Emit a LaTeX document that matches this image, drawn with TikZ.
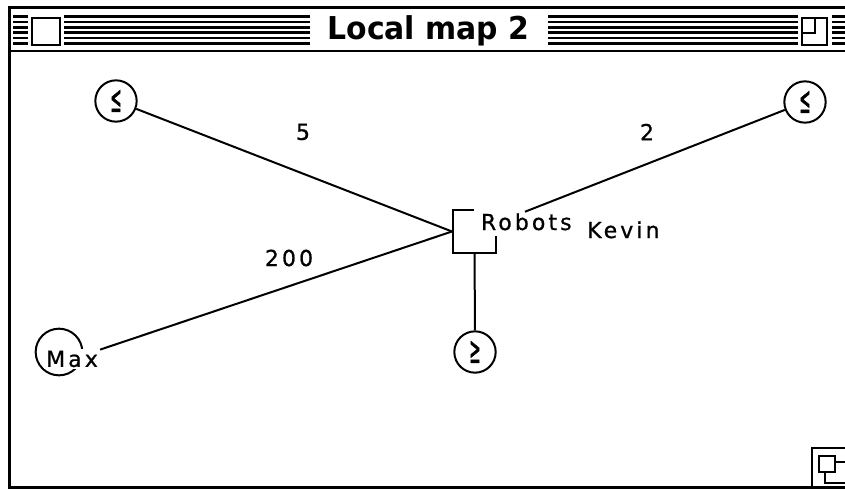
\documentclass[tikz,border=0pt]{standalone}
\usepackage{fontspec}
\setmainfont{DejaVu Sans}[LetterSpace=14, FakeBold=0.8]
\newfontfamily\titlefont{DejaVu Sans}[FakeStretch=0.95]
\newfontfamily\relfont{DejaVu Sans}[FakeStretch=0.35, FakeBold=1.2]
\newcommand\mapfont{\fontsize{16.5}{18}\selectfont}

\begin{document}
\begin{tikzpicture}[x=0.75pt, y=-0.75pt,
    stripe/.style={line width=2pt},
    frame/.style={line width=2.2pt},
    place/.style={circle, draw, line width=1.5pt, minimum size=31pt, inner sep=0pt,
        font=\relfont\fontsize{28}{28}\selectfont},
    robot/.style={draw, line width=1.8pt, minimum size=32pt, inner sep=0pt},
    tag/.style={font=\mapfont, inner sep=0pt},
    link/.style={line width=1.5pt}]
    \useasboundingbox (0,0) rectangle (845,489);

    % window frame and title bar
    \draw[frame] (8,7.5) -- (845,7.5);
    \draw[frame] (8,51) -- (845,51);
    \draw[frame] (8,487.5) -- (845,487.5);
    \draw[line width=2.4pt] (9.5,6.5) -- (9.5,489);
    \foreach \k in {0,...,5} {
        \draw[stripe] (13,{16.5+5.4*\k}) -- (28,{16.5+5.4*\k});
        \draw[stripe] (64,{16.5+5.4*\k}) -- (310,{16.5+5.4*\k});
        \draw[stripe] (548,{16.5+5.4*\k}) -- (798,{16.5+5.4*\k});
        \draw[stripe] (832,{16.5+5.4*\k}) -- (845,{16.5+5.4*\k});
    }
    \draw[frame, fill=white] (32,18) rectangle (60,45);
    \draw[frame, fill=white] (802,18) rectangle (827,45);
    \draw[line width=1.8pt] (815,18) -- (815,33) -- (802,33);
    \node[inner sep=0pt, font=\titlefont\bfseries\fontsize{23.6}{26}\selectfont] (title) at (428.5,31) {Local map 2};

    % grow box
    \draw[line width=1.6pt] (812,489) -- (812,448) -- (845,448);
    \draw[line width=1.6pt] (850,462) -- (825,462) -- (825,483) -- (850,483);
    \draw[line width=2pt, fill=white] (819,456) rectangle (835,472);

    % the map
    \node[robot] (robots) at (474.5,231.5) {};
    \node[place] (lt) at (116,101) {≤};
    \node[place] (rt) at (805,102) {≤};
    \node[place] (bt) at (475,352) {≥};
    \node[place, minimum size=35pt] (mx) at (59,352) {};
    \node[tag, fill=white, inner sep=1.5pt] (mxlbl) at (72,359) {Max};
    \node[tag, fill=white, anchor=base west, inner xsep=5pt, inner ysep=4pt] (rbtlbl) at (474,230) {Robots};
    \node[tag, anchor=base west] (kevin) at (587,238) {Kevin};

    \draw[link] (lt) -- (robots.west);
    \draw[link] (mxlbl) -- (robots.west);
    \draw[link] (robots) -- (bt);
    \draw[link, shorten >=22.5pt] (rt) -- (robots);

    \node[tag] (w5) at (303,132) {5};
    \node[tag] (w2) at (647,132) {2};
    \node[tag] (w200) at (289,258) {200};
\end{tikzpicture}
\end{document}
